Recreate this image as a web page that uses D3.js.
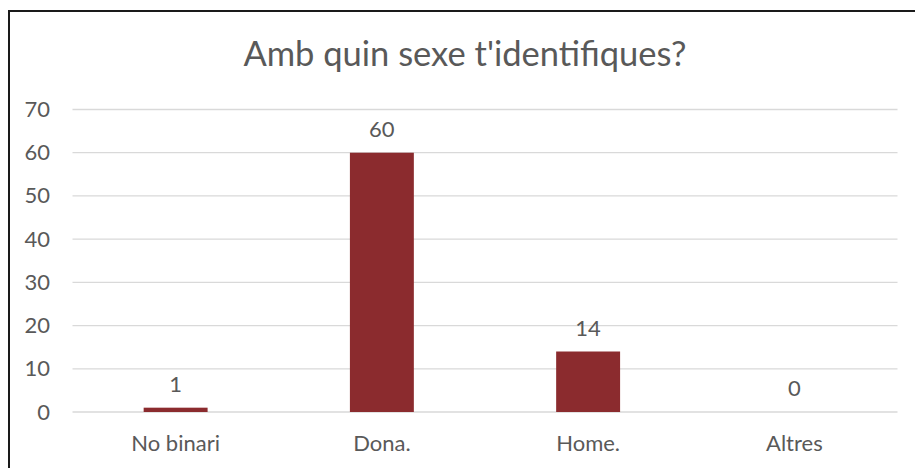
<!DOCTYPE html>
<html>
<head>
<meta charset="utf-8">
<script src="https://cdn.jsdelivr.net/npm/d3@7"></script>
<style>
  body { margin: 0; background: #fff; }
  text { font-family: Lato, "Open Sans", sans-serif; fill: #595959; }
</style>
</head>
<body>
<div id="my_dataviz"></div>
<script>
// data
var categories = ["No binari", "Dona.", "Home.", "Altres"];
var counts = [1, 60, 14, 0];
var yTicks = [0, 10, 20, 30, 40, 50, 60, 70];
var title = "Amb quin sexe t'identifiques?";

// set the graph
var W = 915, H = 468;
var plot = {left: 72.5, right: 897.5, top: 109.5, bottom: 412};

var svg = d3.select("#my_dataviz")
  .append("svg")
    .attr("width", W)
    .attr("height", H);

// outer frame (runs off the right and bottom edges)
svg.append("rect")
  .attr("x", 9).attr("y", 11)
  .attr("width", W + 20).attr("height", H + 20)
  .attr("fill", "none")
  .attr("stroke", "#1a1a1a")
  .attr("stroke-width", 2);

// title
svg.append("text")
  .attr("x", 465).attr("y", 66)
  .attr("text-anchor", "middle")
  .style("font-size", "34.5px")
  .text(title);

// scales
var x = d3.scaleBand()
  .domain(categories)
  .range([plot.left, plot.right])
  .paddingInner(0.69)
  .paddingOuter(0.345);

var y = d3.scaleLinear()
  .domain([0, 70])
  .range([plot.bottom, plot.top]);

// gridlines
svg.append("g")
  .selectAll("line")
  .data(yTicks)
  .enter()
  .append("line")
    .attr("x1", plot.left).attr("x2", plot.right)
    .attr("y1", function(d) { return y(d); })
    .attr("y2", function(d) { return y(d); })
    .attr("stroke", "#d9d9d9")
    .attr("stroke-width", 1.3);

// y axis labels
var yAxis = svg.append("g")
  .attr("transform", "translate(50,0)")
  .call(d3.axisLeft(y).tickValues(yTicks).tickSize(0).tickPadding(0));
yAxis.select(".domain").remove();
yAxis.selectAll("text")
  .style("font-size", "22px")
  .attr("fill", "#595959")
  .attr("font-family", "Lato, 'Open Sans', sans-serif");

// x axis labels
var xAxis = svg.append("g")
  .attr("transform", "translate(0," + plot.bottom + ")")
  .call(d3.axisBottom(x).tickSize(0).tickPadding(23));
xAxis.select(".domain").remove();
xAxis.selectAll("text")
  .style("font-size", "22px")
  .attr("fill", "#595959")
  .attr("font-family", "Lato, 'Open Sans', sans-serif");

var rows = categories.map(function(c, i) { return {cat: c, value: counts[i]}; });

// bars
svg.append("g")
  .selectAll("rect")
  .data(rows)
  .enter()
  .append("rect")
    .attr("x", function(d) { return x(d.cat); })
    .attr("y", function(d) { return y(d.value); })
    .attr("width", x.bandwidth())
    .attr("height", function(d) { return plot.bottom - y(d.value); })
    .attr("fill", "#8b2b2e");

// value labels
svg.append("g")
  .selectAll("text")
  .data(rows)
  .enter()
  .append("text")
    .attr("x", function(d) { return x(d.cat) + x.bandwidth() / 2; })
    .attr("y", function(d) { return y(d.value) - 16; })
    .attr("text-anchor", "middle")
    .style("font-size", "22px")
    .text(function(d) { return d.value; });
</script>
</body>
</html>
